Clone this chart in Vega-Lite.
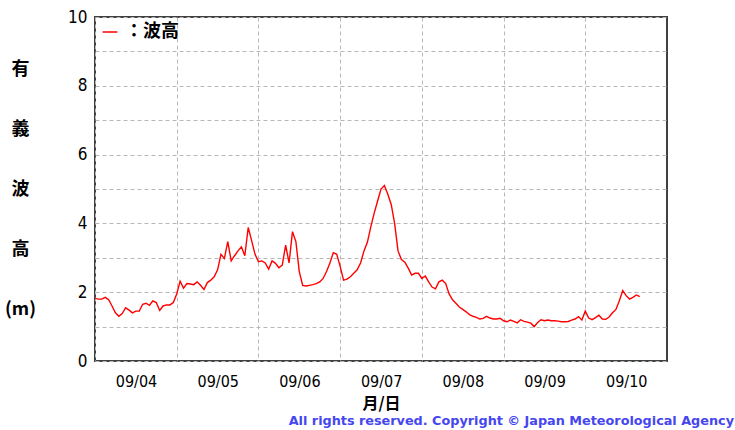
{
  "$schema": "https://vega.github.io/schema/vega-lite/v6.json",
  "width": 572,
  "height": 344,
  "autosize": "none",
  "padding": {"left": 95, "top": 17, "right": 68, "bottom": 69},
  "background": "white",
  "config": {"view": {"stroke": "#404040", "strokeWidth": 2}},
  "title": {
    "text": "All rights reserved. Copyright © Japan Meteorological Agency",
    "orient": "bottom",
    "anchor": "end",
    "dx": 67,
    "offset": 4,
    "font": "DejaVu Sans",
    "fontSize": 12.8,
    "fontWeight": "bold",
    "color": "#4646f0"
  },
  "data": {
    "values": [
      {"t": "2023-09-04T00:00", "v": 1.82}, {"t": "2023-09-04T01:00", "v": 1.8}, {"t": "2023-09-04T02:00", "v": 1.8}, {"t": "2023-09-04T03:00", "v": 1.85},
      {"t": "2023-09-04T04:00", "v": 1.78}, {"t": "2023-09-04T05:00", "v": 1.6}, {"t": "2023-09-04T06:00", "v": 1.4}, {"t": "2023-09-04T07:00", "v": 1.3},
      {"t": "2023-09-04T08:00", "v": 1.38}, {"t": "2023-09-04T09:00", "v": 1.55}, {"t": "2023-09-04T10:00", "v": 1.48}, {"t": "2023-09-04T11:00", "v": 1.4},
      {"t": "2023-09-04T12:00", "v": 1.45}, {"t": "2023-09-04T13:00", "v": 1.45}, {"t": "2023-09-04T14:00", "v": 1.65}, {"t": "2023-09-04T15:00", "v": 1.68},
      {"t": "2023-09-04T16:00", "v": 1.62}, {"t": "2023-09-04T17:00", "v": 1.75}, {"t": "2023-09-04T18:00", "v": 1.7}, {"t": "2023-09-04T19:00", "v": 1.47},
      {"t": "2023-09-04T20:00", "v": 1.6}, {"t": "2023-09-04T21:00", "v": 1.63}, {"t": "2023-09-04T22:00", "v": 1.63}, {"t": "2023-09-04T23:00", "v": 1.7},
      {"t": "2023-09-05T00:00", "v": 1.95}, {"t": "2023-09-05T01:00", "v": 2.32}, {"t": "2023-09-05T02:00", "v": 2.12}, {"t": "2023-09-05T03:00", "v": 2.25},
      {"t": "2023-09-05T04:00", "v": 2.24}, {"t": "2023-09-05T05:00", "v": 2.22}, {"t": "2023-09-05T06:00", "v": 2.3}, {"t": "2023-09-05T07:00", "v": 2.2},
      {"t": "2023-09-05T08:00", "v": 2.08}, {"t": "2023-09-05T09:00", "v": 2.28}, {"t": "2023-09-05T10:00", "v": 2.35}, {"t": "2023-09-05T11:00", "v": 2.45},
      {"t": "2023-09-05T12:00", "v": 2.65}, {"t": "2023-09-05T13:00", "v": 3.1}, {"t": "2023-09-05T14:00", "v": 2.98}, {"t": "2023-09-05T15:00", "v": 3.47},
      {"t": "2023-09-05T16:00", "v": 2.91}, {"t": "2023-09-05T17:00", "v": 3.06}, {"t": "2023-09-05T18:00", "v": 3.2}, {"t": "2023-09-05T19:00", "v": 3.32},
      {"t": "2023-09-05T20:00", "v": 3.06}, {"t": "2023-09-05T21:00", "v": 3.88}, {"t": "2023-09-05T22:00", "v": 3.5}, {"t": "2023-09-05T23:00", "v": 3.1},
      {"t": "2023-09-06T00:00", "v": 2.89}, {"t": "2023-09-06T01:00", "v": 2.91}, {"t": "2023-09-06T02:00", "v": 2.85}, {"t": "2023-09-06T03:00", "v": 2.67},
      {"t": "2023-09-06T04:00", "v": 2.91}, {"t": "2023-09-06T05:00", "v": 2.84}, {"t": "2023-09-06T06:00", "v": 2.71}, {"t": "2023-09-06T07:00", "v": 2.79},
      {"t": "2023-09-06T08:00", "v": 3.37}, {"t": "2023-09-06T09:00", "v": 2.85}, {"t": "2023-09-06T10:00", "v": 3.76}, {"t": "2023-09-06T11:00", "v": 3.47},
      {"t": "2023-09-06T12:00", "v": 2.6}, {"t": "2023-09-06T13:00", "v": 2.2}, {"t": "2023-09-06T14:00", "v": 2.18}, {"t": "2023-09-06T15:00", "v": 2.2},
      {"t": "2023-09-06T16:00", "v": 2.22}, {"t": "2023-09-06T17:00", "v": 2.25}, {"t": "2023-09-06T18:00", "v": 2.3}, {"t": "2023-09-06T19:00", "v": 2.4},
      {"t": "2023-09-06T20:00", "v": 2.6}, {"t": "2023-09-06T21:00", "v": 2.85}, {"t": "2023-09-06T22:00", "v": 3.15}, {"t": "2023-09-06T23:00", "v": 3.1},
      {"t": "2023-09-07T00:00", "v": 2.75}, {"t": "2023-09-07T01:00", "v": 2.35}, {"t": "2023-09-07T02:00", "v": 2.38}, {"t": "2023-09-07T03:00", "v": 2.45},
      {"t": "2023-09-07T04:00", "v": 2.55}, {"t": "2023-09-07T05:00", "v": 2.65}, {"t": "2023-09-07T06:00", "v": 2.85}, {"t": "2023-09-07T07:00", "v": 3.2},
      {"t": "2023-09-07T08:00", "v": 3.45}, {"t": "2023-09-07T09:00", "v": 3.9}, {"t": "2023-09-07T10:00", "v": 4.3}, {"t": "2023-09-07T11:00", "v": 4.65},
      {"t": "2023-09-07T12:00", "v": 5.0}, {"t": "2023-09-07T13:00", "v": 5.1}, {"t": "2023-09-07T14:00", "v": 4.85}, {"t": "2023-09-07T15:00", "v": 4.55},
      {"t": "2023-09-07T16:00", "v": 4.0}, {"t": "2023-09-07T17:00", "v": 3.2}, {"t": "2023-09-07T18:00", "v": 2.95}, {"t": "2023-09-07T19:00", "v": 2.87},
      {"t": "2023-09-07T20:00", "v": 2.7}, {"t": "2023-09-07T21:00", "v": 2.5}, {"t": "2023-09-07T22:00", "v": 2.55}, {"t": "2023-09-07T23:00", "v": 2.55},
      {"t": "2023-09-08T00:00", "v": 2.4}, {"t": "2023-09-08T01:00", "v": 2.47}, {"t": "2023-09-08T02:00", "v": 2.3}, {"t": "2023-09-08T03:00", "v": 2.15},
      {"t": "2023-09-08T04:00", "v": 2.1}, {"t": "2023-09-08T05:00", "v": 2.3}, {"t": "2023-09-08T06:00", "v": 2.35}, {"t": "2023-09-08T07:00", "v": 2.25},
      {"t": "2023-09-08T08:00", "v": 1.95}, {"t": "2023-09-08T09:00", "v": 1.78}, {"t": "2023-09-08T10:00", "v": 1.68}, {"t": "2023-09-08T11:00", "v": 1.57},
      {"t": "2023-09-08T12:00", "v": 1.5}, {"t": "2023-09-08T13:00", "v": 1.43}, {"t": "2023-09-08T14:00", "v": 1.35}, {"t": "2023-09-08T15:00", "v": 1.3},
      {"t": "2023-09-08T16:00", "v": 1.27}, {"t": "2023-09-08T17:00", "v": 1.22}, {"t": "2023-09-08T18:00", "v": 1.24}, {"t": "2023-09-08T19:00", "v": 1.3},
      {"t": "2023-09-08T20:00", "v": 1.25}, {"t": "2023-09-08T21:00", "v": 1.22}, {"t": "2023-09-08T22:00", "v": 1.22}, {"t": "2023-09-08T23:00", "v": 1.24},
      {"t": "2023-09-09T00:00", "v": 1.17}, {"t": "2023-09-09T01:00", "v": 1.14}, {"t": "2023-09-09T02:00", "v": 1.19}, {"t": "2023-09-09T03:00", "v": 1.15},
      {"t": "2023-09-09T04:00", "v": 1.11}, {"t": "2023-09-09T05:00", "v": 1.2}, {"t": "2023-09-09T06:00", "v": 1.15}, {"t": "2023-09-09T07:00", "v": 1.13},
      {"t": "2023-09-09T08:00", "v": 1.1}, {"t": "2023-09-09T09:00", "v": 1.0}, {"t": "2023-09-09T10:00", "v": 1.12}, {"t": "2023-09-09T11:00", "v": 1.2},
      {"t": "2023-09-09T12:00", "v": 1.17}, {"t": "2023-09-09T13:00", "v": 1.19}, {"t": "2023-09-09T14:00", "v": 1.17}, {"t": "2023-09-09T15:00", "v": 1.17},
      {"t": "2023-09-09T16:00", "v": 1.16}, {"t": "2023-09-09T17:00", "v": 1.14}, {"t": "2023-09-09T18:00", "v": 1.14}, {"t": "2023-09-09T19:00", "v": 1.15},
      {"t": "2023-09-09T20:00", "v": 1.19}, {"t": "2023-09-09T21:00", "v": 1.22}, {"t": "2023-09-09T22:00", "v": 1.29}, {"t": "2023-09-09T23:00", "v": 1.19},
      {"t": "2023-09-10T00:00", "v": 1.45}, {"t": "2023-09-10T01:00", "v": 1.25}, {"t": "2023-09-10T02:00", "v": 1.2}, {"t": "2023-09-10T03:00", "v": 1.26},
      {"t": "2023-09-10T04:00", "v": 1.33}, {"t": "2023-09-10T05:00", "v": 1.22}, {"t": "2023-09-10T06:00", "v": 1.21}, {"t": "2023-09-10T07:00", "v": 1.28},
      {"t": "2023-09-10T08:00", "v": 1.4}, {"t": "2023-09-10T09:00", "v": 1.5}, {"t": "2023-09-10T10:00", "v": 1.75}, {"t": "2023-09-10T11:00", "v": 2.05},
      {"t": "2023-09-10T12:00", "v": 1.9}, {"t": "2023-09-10T13:00", "v": 1.8}, {"t": "2023-09-10T14:00", "v": 1.85}, {"t": "2023-09-10T15:00", "v": 1.92},
      {"t": "2023-09-10T16:00", "v": 1.87}
    ]
  },
  "mark": {"type": "line", "strokeWidth": 1.4, "clip": true},
  "encoding": {
    "x": {
      "field": "t",
      "type": "temporal",
      "scale": {"domain": [{"year": 2023, "month": 9, "date": 4}, {"year": 2023, "month": 9, "date": 11}]},
      "axis": {
        "values": [
          {"year": 2023, "month": 9, "date": 4}, {"year": 2023, "month": 9, "date": 5}, {"year": 2023, "month": 9, "date": 6},
          {"year": 2023, "month": 9, "date": 7}, {"year": 2023, "month": 9, "date": 8}, {"year": 2023, "month": 9, "date": 9},
          {"year": 2023, "month": 9, "date": 10}
        ],
        "format": "%m/%d",
        "labelOffset": 41,
        "labelFlush": false,
        "labelOverlap": false,
        "labelFont": "DejaVu Sans Condensed",
        "labelFontSize": 16,
        "labelColor": "#000000",
        "labelPadding": 12,
        "ticks": false,
        "domain": false,
        "grid": true,
        "gridColor": "#b8b8b8",
        "gridDash": [4, 3],
        "gridWidth": 1,
        "title": "月/日",
        "titleFont": "Noto Sans CJK JP",
        "titleFontSize": 16,
        "titleFontWeight": "bold",
        "titleColor": "#000000",
        "titlePadding": 6
      }
    },
    "y": {
      "field": "v",
      "type": "quantitative",
      "scale": {"domain": [0, 10]},
      "axis": {
        "values": [0, 1, 2, 3, 4, 5, 6, 7, 8, 9, 10],
        "labelExpr": "datum.value % 2 === 0 ? datum.label : ''",
        "labelFont": "DejaVu Sans Condensed",
        "labelFontSize": 17,
        "labelColor": "#000000",
        "labelPadding": 8,
        "ticks": false,
        "domain": false,
        "grid": true,
        "gridColor": "#b8b8b8",
        "gridDash": [4, 3],
        "gridWidth": 1,
        "title": ["有", "義", "波", "高", "(m)"],
        "titleAngle": 0,
        "titleAlign": "center",
        "titleBaseline": "top",
        "titleX": -75,
        "titleY": 43,
        "titleLineHeight": 60,
        "titleFont": "Noto Sans CJK JP",
        "titleFontSize": 18,
        "titleFontWeight": "bold",
        "titleColor": "#000000"
      }
    },
    "color": {
      "datum": "：波高",
      "type": "nominal",
      "scale": {"range": ["#ff0000"]},
      "legend": {
        "title": null,
        "orient": "none",
        "legendX": 6,
        "legendY": 6,
        "padding": 0,
        "symbolType": "stroke",
        "symbolSize": 220,
        "symbolStrokeWidth": 1.5,
        "labelFont": "Noto Sans CJK JP",
        "labelFontSize": 18,
        "labelFontWeight": "bold",
        "labelColor": "#000000",
        "labelOffset": 6
      }
    }
  }
}
